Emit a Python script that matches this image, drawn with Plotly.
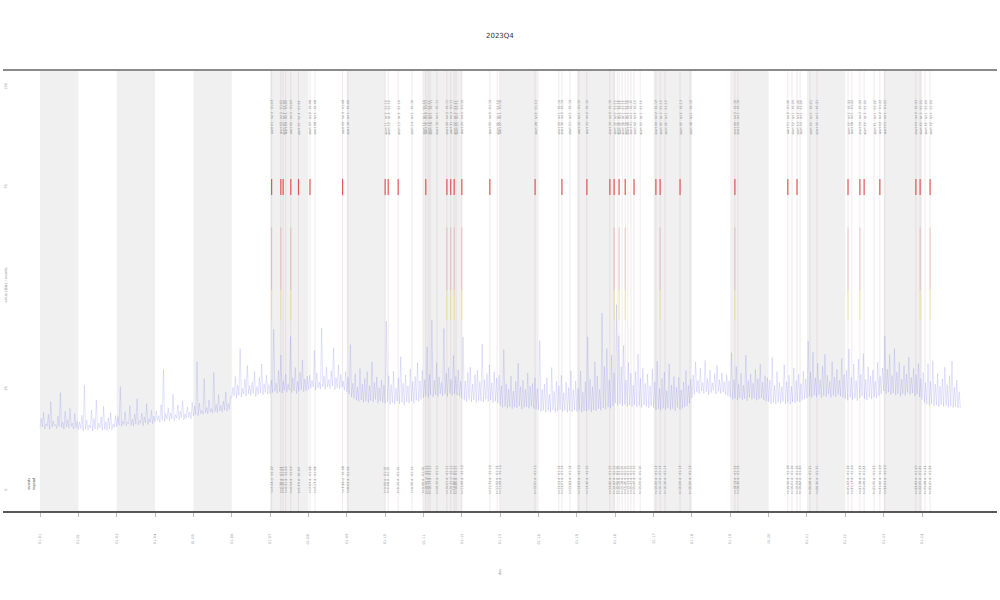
import plotly.graph_objects as go

# ---------------- data ----------------
title_text = "2023Q4"
x_title = "day"
y_title = "value (a.u.) / events"
tick_days = list(range(24))
tick_labels = ["01-%02d" % (d + 1) for d in tick_days]
y_tick_vals = [0, 25, 50, 75, 100]
shade_starts = [0, 2, 4, 6, 8, 10, 12, 14, 16, 18, 20, 22]

samples_per_day = 32
series = [
    15.3,17.8,15.6,19.2,15.1,16.4,15.8,18.7,15.0,21.9,15.5,17.1,15.9,16.2,15.2,18.3,15.7,24.1,15.4,16.8,15.0,19.5,15.6,17.4,15.3,20.2,15.8,16.5,15.1,18.9,15.4,17.0,
    14.9,16.8,15.2,18.5,14.7,26.0,15.0,17.3,14.8,16.1,15.3,19.8,14.6,17.7,15.1,22.3,14.9,16.5,15.4,18.1,14.8,20.7,15.0,16.9,14.7,17.8,15.2,19.1,14.9,16.3,15.5,18.4,
    15.7,18.2,16.0,25.6,15.8,17.1,16.2,19.4,15.9,16.8,16.4,20.9,16.0,17.5,15.8,18.8,16.3,22.6,16.1,17.2,16.5,19.0,15.9,18.1,16.6,21.4,16.2,17.6,16.8,19.7,16.4,18.3,
    16.9,19.6,17.2,18.4,16.8,21.1,17.3,29.9,17.0,18.9,17.5,20.3,17.1,19.1,17.6,23.7,17.2,18.6,17.8,21.0,17.4,19.5,17.9,22.1,17.3,18.8,17.7,20.6,18.0,19.3,17.6,21.7,
    18.3,20.8,18.6,31.8,18.4,21.5,18.9,19.7,18.7,27.6,19.1,20.4,18.8,22.3,19.3,20.1,19.0,29.1,19.4,21.2,19.1,23.6,19.6,20.9,19.3,22.0,19.8,24.3,19.5,21.4,20.0,23.1,
    22.9,25.4,23.3,28.1,22.8,26.0,23.5,35.0,23.0,25.2,23.7,27.4,23.2,30.8,23.8,25.9,23.4,26.7,23.9,29.3,23.1,25.6,23.6,27.9,24.0,31.2,23.5,26.3,24.1,28.4,23.7,26.1,
    23.8,27.2,24.1,39.8,24.4,26.5,23.9,29.6,24.3,33.4,24.0,27.0,24.6,28.7,24.2,26.3,24.7,38.0,24.1,27.8,24.5,30.3,23.9,26.9,24.4,29.1,24.8,32.2,24.3,27.5,24.6,28.2,
    24.9,28.4,25.2,27.1,25.5,34.5,24.8,29.0,25.3,26.7,25.0,40.1,25.6,28.2,24.9,30.4,25.4,27.3,25.1,29.5,25.7,35.2,24.8,27.8,25.3,31.0,25.0,28.6,25.5,26.9,24.7,29.3,
    24.3,27.9,23.7,36.0,23.0,26.4,22.6,28.8,22.2,25.5,21.9,30.1,22.3,26.2,21.7,27.6,22.0,29.3,21.6,25.9,22.1,31.7,21.8,26.6,22.4,28.0,21.5,25.3,22.0,27.2,21.7,26.0,
    21.4,41.8,21.8,28.3,21.1,26.1,21.6,29.4,21.2,25.2,21.9,27.7,21.3,33.0,21.7,26.4,21.0,28.5,21.8,25.8,21.4,30.0,22.0,26.9,21.5,28.1,22.2,31.5,21.9,27.0,22.4,29.6,
    22.8,27.3,23.2,35.4,22.9,28.6,23.5,42.1,23.0,27.1,23.6,31.5,23.2,28.0,23.8,26.6,23.3,40.0,23.7,28.9,23.1,30.3,23.9,27.4,23.4,33.3,23.8,28.1,23.5,29.7,23.2,26.9,
    22.6,37.9,22.2,27.0,21.9,29.1,22.4,30.4,21.8,26.2,22.3,28.6,21.7,29.6,22.1,26.8,22.0,36.1,21.8,27.3,22.4,28.8,21.9,31.0,22.2,26.5,21.6,29.2,22.0,27.7,21.5,28.4,
    20.9,25.8,20.4,34.8,20.7,26.3,20.2,25.0,20.6,28.2,20.1,24.5,20.5,26.9,20.3,31.4,20.8,25.6,20.0,27.1,20.4,24.9,20.6,29.0,20.2,25.7,20.7,26.4,20.1,27.8,19.9,25.1,
    19.8,37.0,19.4,24.9,19.7,26.2,19.2,27.8,19.6,23.7,19.3,30.3,19.8,24.4,19.1,26.9,19.5,25.8,19.9,28.4,19.4,24.1,19.7,26.7,19.2,25.3,19.6,29.5,19.3,24.8,19.8,27.0,
    19.4,25.1,19.7,29.5,19.2,24.2,19.6,26.8,19.5,37.9,19.9,27.4,19.3,25.6,19.8,31.7,19.6,28.2,20.1,24.9,19.7,43.8,20.3,30.6,20.0,35.0,20.5,27.3,20.2,33.4,20.8,29.0,
    21.5,45.9,20.9,38.2,21.3,30.5,20.8,35.8,21.2,27.2,20.7,31.6,21.0,28.9,20.6,26.0,21.1,29.3,20.5,33.7,20.9,27.6,20.4,30.1,21.0,26.4,20.7,28.7,20.3,25.8,20.8,29.9,
    20.4,26.8,19.8,31.9,20.1,25.1,19.7,27.6,20.2,29.2,19.9,24.6,20.3,31.3,19.8,26.0,20.1,28.1,19.6,25.4,20.4,27.9,19.9,24.8,20.2,26.7,20.5,29.6,20.8,25.9,21.5,27.4,
    22.8,28.4,23.6,31.7,24.2,27.1,23.8,30.2,24.5,26.6,23.9,32.1,24.3,27.6,23.5,29.7,24.1,26.5,24.6,28.8,23.7,30.9,24.4,27.3,23.9,29.0,24.2,26.8,23.6,28.5,23.3,27.0,
    22.9,34.0,22.4,27.3,22.7,30.6,22.2,26.2,22.8,28.9,22.3,25.9,22.6,33.4,22.1,27.0,22.9,28.7,22.4,26.4,22.7,29.8,22.2,27.5,22.5,31.1,22.8,26.7,22.3,28.3,22.0,27.8,
    21.8,27.2,21.3,32.8,21.6,25.9,21.2,29.3,21.7,26.6,21.4,25.6,21.9,31.0,21.3,26.8,21.6,28.4,21.2,25.7,21.8,30.2,21.5,27.1,22.0,28.6,21.7,26.3,22.2,29.4,22.5,27.5,
    22.7,36.9,23.2,29.2,22.9,34.1,23.4,27.8,23.0,31.4,23.6,27.3,22.8,30.7,23.3,33.6,23.1,28.4,23.7,26.9,22.9,31.8,23.4,28.0,23.0,29.9,23.6,27.2,23.2,32.5,22.9,28.6,
    22.6,29.6,22.2,34.9,22.9,27.9,22.4,31.2,22.7,27.1,22.1,32.4,22.8,28.6,23.2,33.8,22.6,27.4,22.3,30.5,22.9,28.3,22.5,29.7,23.0,26.9,22.7,31.6,23.3,28.1,23.8,30.2,
    24.5,38.1,23.8,29.9,24.2,33.5,23.6,28.3,24.0,35.0,23.5,29.2,23.9,31.6,23.2,27.4,23.8,30.8,23.4,28.7,24.1,32.9,23.6,27.9,24.0,30.1,23.3,28.5,23.7,31.3,23.0,27.6,
    22.4,29.1,21.6,26.6,21.2,31.3,20.9,26.9,21.3,32.0,20.8,26.2,21.0,28.8,20.6,25.7,21.1,27.5,20.7,30.4,20.9,26.1,20.5,28.3,20.8,31.9,20.4,25.4,20.6,27.2,20.3,24.3,
    20.2,
]

event_x = [6.04, 6.28, 6.34, 6.41, 6.54, 6.74, 7.04, 7.17, 7.89, 8.03,
           9.00, 9.08, 9.34, 9.70, 9.99, 10.06, 10.12, 10.17, 10.35, 10.61,
           10.71, 10.80, 10.85, 11.00, 11.73, 11.92, 11.99, 12.91, 13.53, 13.61,
           13.82, 14.05, 14.26, 14.86, 14.97, 15.05, 15.10, 15.18, 15.26, 15.33,
           15.41, 15.49, 15.65, 16.06, 16.17, 16.30, 16.69, 16.95, 18.12, 18.20,
           19.50, 19.61, 19.74, 19.82, 20.08, 20.26, 21.07, 21.17, 21.38, 21.49,
           21.75, 21.90, 22.03, 22.84, 22.95, 23.08, 23.21]
event_level = [3, 3, 2, 1, 3, 2, 2, 1, 2, 1,
               2, 2, 2, 1, 1, 2, 1, 1, 1, 3,
               3, 3, 1, 3, 2, 1, 1, 2, 1, 2,
               1, 1, 2, 2, 3, 1, 3, 1, 3, 1,
               1, 2, 1, 2, 3, 1, 2, 1, 3, 1,
               2, 1, 2, 1, 1, 1, 3, 1, 3, 2,
               1, 2, 1, 2, 3, 1, 3]

# ---------------- figure ----------------
Y_MIN, Y_MAX = -5.45, 103.96
X_MIN, X_MAX = -0.965, 24.955

fig = go.Figure()


def seg_trace(xs, y0, y1, color, width):
    xx, yy = [], []
    for e in xs:
        xx += [e, e, None]
        yy += [y0, y1, None]
    return go.Scatter(x=xx, y=yy, mode="lines", line=dict(color=color, width=width),
                      hoverinfo="skip", showlegend=False)


fig.add_trace(seg_trace(event_x, Y_MIN, Y_MAX, "rgba(190,165,175,0.4)", 0.6))
lvl3 = [e for e, l in zip(event_x, event_level) if l >= 3]
lvl2 = [e for e, l in zip(event_x, event_level) if l >= 2]
fig.add_trace(seg_trace(lvl3, 42.0, 49.5, "rgba(240,215,90,0.5)", 1.0))
fig.add_trace(seg_trace(lvl3, 49.5, 65.0, "rgba(225,80,80,0.28)", 1.0))
fig.add_trace(seg_trace(lvl2, 73.0, 77.0, "rgba(225,50,50,0.8)", 1.2))

xs = [i / samples_per_day for i in range(len(series))]
fig.add_trace(go.Scatter(x=xs, y=series, mode="lines",
                         line=dict(color="rgba(110,110,235,0.38)", width=0.5),
                         hoverinfo="skip", showlegend=False))

shapes = []
for s in shade_starts:
    shapes.append(dict(type="rect", xref="x", yref="paper", x0=s, x1=s + 1, y0=0, y1=1,
                       fillcolor="#f0f0f0", line=dict(width=0), layer="below"))
shapes.append(dict(type="line", xref="paper", yref="paper", x0=0, x1=1, y0=1, y1=1,
                   line=dict(color="#8a8a8a", width=2)))
shapes.append(dict(type="line", xref="paper", yref="paper", x0=0, x1=1, y0=0, y1=0,
                   line=dict(color="#222", width=1.5)))

ann = []
small = dict(family="DejaVu Sans", size=3.2, color="#888")
for i, (e, l) in enumerate(zip(event_x, event_level)):
    day = int(e) + 1
    ann.append(dict(x=e, y=92.2, xref="x", yref="y",
                    text="alert %02d · lvl %d · 01-%02d" % (i + 1, l, day),
                    textangle=-90, showarrow=False, font=small, xanchor="center", yanchor="middle"))
    ann.append(dict(x=e, y=2.5, xref="x", yref="y",
                    text="t=%.2f d · 01-%02d" % (e, day),
                    textangle=-90, showarrow=False, font=small, xanchor="center", yanchor="middle"))
tick_font = dict(family="DejaVu Sans", size=3.5, color="#999")
for d, lab in zip(tick_days, tick_labels):
    ann.append(dict(x=d, y=-0.061, xref="x", yref="paper", text=lab, textangle=-90,
                    showarrow=False, font=tick_font, xanchor="center", yanchor="middle"))
for v in y_tick_vals:
    ann.append(dict(x=0.0028, y=v, xref="paper", yref="y", text=str(v), textangle=-90,
                    showarrow=False, font=tick_font, xanchor="center", yanchor="middle"))
ann.append(dict(x=0.0028, y=0.514, xref="paper", yref="paper", text=y_title, textangle=-90,
                showarrow=False, font=tick_font, xanchor="center", yanchor="middle"))
ann.append(dict(x=0.5, y=-0.136, xref="paper", yref="paper", text=x_title, textangle=-90,
                showarrow=False, font=tick_font, xanchor="center", yanchor="middle"))
ann.append(dict(x=0.5, y=1.077, xref="paper", yref="paper", text=title_text,
                showarrow=False, font=dict(family="DejaVu Sans", size=7, color="#333"),
                xanchor="center", yanchor="middle"))
ann.append(dict(x=-0.21, y=1.5, xref="x", yref="y", text="events<br>legend", textangle=-90,
                showarrow=False, font=dict(family="DejaVu Sans", size=3.5, color="#555"),
                xanchor="center", yanchor="middle"))

fig.update_layout(
    width=1000, height=600,
    margin=dict(l=3, r=3, t=70, b=88, autoexpand=False),
    plot_bgcolor="white", paper_bgcolor="white",
    shapes=shapes, annotations=ann, showlegend=False,
    xaxis=dict(range=[X_MIN, X_MAX], showgrid=False, zeroline=False, showline=False,
               tickvals=tick_days, ticks="outside", ticklen=4, tickwidth=0.6,
               tickcolor="#bbb", showticklabels=False, automargin=False),
    yaxis=dict(range=[Y_MIN, Y_MAX], showgrid=False, zeroline=False, showline=False,
               showticklabels=False, ticks="", automargin=False),
)

fig.write_html("out.html", config={"displayModeBar": False},
               post_script="document.body.style.margin='0';document.body.style.overflow='hidden';")
